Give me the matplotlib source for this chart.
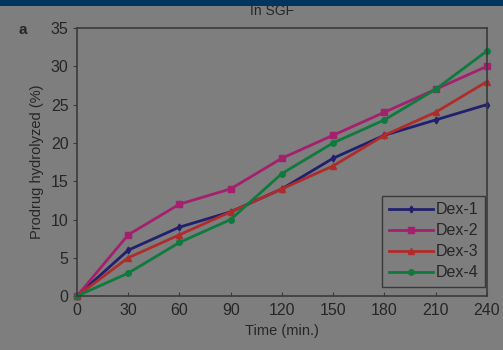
import matplotlib
matplotlib.use("Agg")
import matplotlib.pyplot as plt
from matplotlib.patches import Rectangle

time = [0, 30, 60, 90, 120, 150, 180, 210, 240]
dex1 = [0, 6, 9, 11, 14, 18, 21, 23, 25]
dex2 = [0, 8, 12, 14, 18, 21, 24, 27, 30]
dex3 = [0, 5, 8, 11, 14, 17, 21, 24, 28]
dex4 = [0, 3, 7, 10, 16, 20, 23, 27, 32]
labels = ["Dex-1", "Dex-2", "Dex-3", "Dex-4"]
xticks = [0, 30, 60, 90, 120, 150, 180, 210, 240]
yticks = [0, 5, 10, 15, 20, 25, 30, 35]

bg = "#7e7e7e"
txt = "#262626"
plt.rcParams['font.family'] = ['Liberation Sans', 'DejaVu Sans']

fig = plt.figure(figsize=(5.03, 3.5), dpi=100, facecolor=bg)
ax = fig.add_axes([0.153, 0.154, 0.815, 0.766], facecolor=bg)

series = [(dex1, "#20206e", "d", 3.5), (dex2, "#a4206e", "s", 4),
          (dex3, "#b02c2c", "^", 4), (dex4, "#0e7a3e", "o", 4)]
for (ys, c, m, ms), lab in zip(series, labels):
    ax.plot(time, ys, color=c, lw=2, marker=m, ms=ms, label=lab, clip_on=False)

ax.set_xlim(0, 240)
ax.set_ylim(0, 35)
ax.set_xticks(xticks)
ax.set_yticks(yticks)
ax.tick_params(axis='x', direction='in', length=3, colors="#3a3a3a", labelcolor=txt, labelsize=11.5, pad=5)
ax.tick_params(axis='y', direction='out', length=3, colors="#3a3a3a", labelcolor=txt, labelsize=11.5, pad=3)
for s in ax.spines.values():
    s.set_color("#3a3a3a")
    s.set_linewidth(1.2)

ax.set_xlabel("Time (min.)", color=txt, fontsize=10.5, labelpad=4)
ax.set_ylabel("Prodrug hydrolyzed (%)", color=txt, fontsize=10.5, labelpad=5)

leg = ax.legend(loc='lower right', bbox_to_anchor=(0.995, 0.035), fontsize=11.5,
                frameon=True, fancybox=False,
                edgecolor="#3a3a3a", facecolor=bg, framealpha=1,
                handlelength=2.8, handletextpad=0.15, borderpad=0.4,
                labelspacing=0.38, borderaxespad=0.0)
leg.get_frame().set_linewidth(1.0)
for t in leg.get_texts():
    t.set_color(txt)

fig.text(0.54, 0.968, "In SGF", ha='center', va='center', color=txt, fontsize=10)
fig.text(0.045, 0.914, "a", ha='center', va='center', color=txt, fontsize=11, fontweight='bold')
fig.patches.append(Rectangle((0, 0.982), 1, 0.018, transform=fig.transFigure,
                             facecolor="#003560", edgecolor='none', zorder=10))

fig.savefig("out.png", dpi=100, facecolor=bg)
